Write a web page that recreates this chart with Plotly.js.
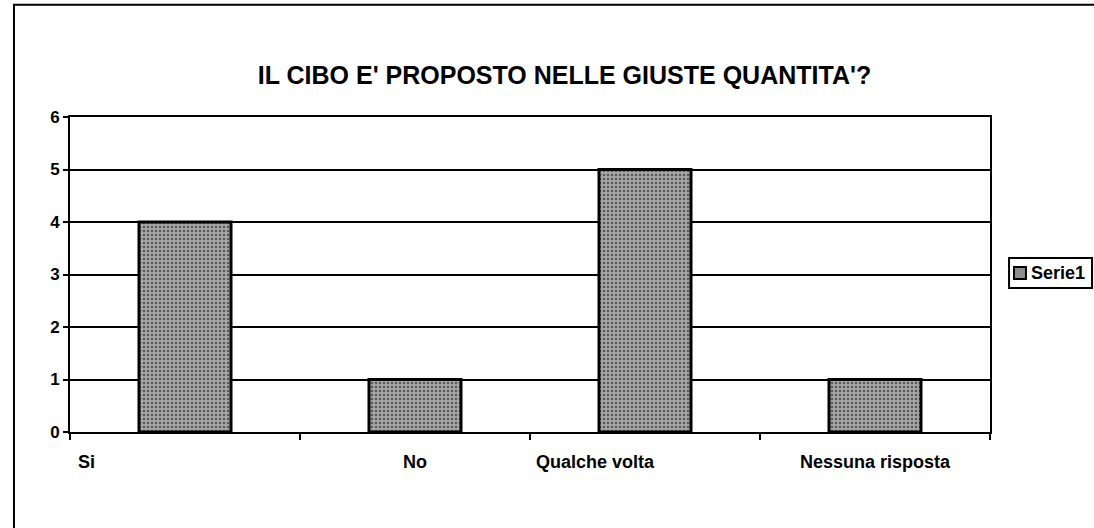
<!DOCTYPE html>
<html>
<head>
<meta charset="utf-8">
<script src="https://cdn.plot.ly/plotly-3.0.1.min.js"></script>
<style>html,body{margin:0;padding:0;background:#fff;}#chart{width:1094px;height:528px;}</style>
</head>
<body>
<div id="chart"></div>
<script>
const categories = ["Si", "No", "Qualche volta", "Nessuna risposta"];
const serie1 = [4, 1, 5, 1];
const yTicks = [0, 1, 2, 3, 4, 5, 6];
const seriesName = "Serie1";
const chartTitle = "IL CIBO E' PROPOSTO NELLE GIUSTE QUANTITA'?";

const FONT = "Liberation Sans, Arial, sans-serif";

// label placement relative to category index (as in the scanned original)
const labelShift = [-0.474, 0.0, -0.217, 0.0];
const labelAnchor = ["left", "center", "center", "center"];

const barFill = "#8e8e8e";
const barPattern = {shape: ".", fgcolor: "#5a5a5a", bgcolor: "#a8a8a8", size: 4, solidity: 0.35};

const trace = {
  type: "bar",
  x: categories,
  y: serie1,
  name: seriesName,
  width: 0.4,
  marker: {
    color: barFill,
    line: {color: "#000", width: 3},
    pattern: barPattern
  },
  showlegend: false,
  hoverinfo: "skip"
};

const annotations = categories.map((c, i) => ({
  text: c,
  x: i + labelShift[i],
  xref: "x",
  y: -0.095,
  yref: "paper",
  xanchor: labelAnchor[i],
  yanchor: "middle",
  showarrow: false,
  font: {family: FONT, size: 18, color: "#000", weight: "bold"}
}));

// legend (drawn manually so it fits in the narrow right margin like the original)
annotations.push({
  text: seriesName,
  x: 1.0424, xref: "paper",
  y: 0.505, yref: "paper",
  xanchor: "left", yanchor: "middle",
  showarrow: false,
  font: {family: FONT, size: 18, color: "#000", weight: "bold"}
});

const layout = {
  width: 1094,
  height: 528,
  margin: {l: 70, r: 104, t: 117, b: 96, autoexpand: false},
  paper_bgcolor: "#fff",
  plot_bgcolor: "#fff",
  showlegend: false,
  title: {
    text: chartTitle,
    xref: "container", x: 0.516,
    yref: "container", y: 0.858, yanchor: "middle",
    font: {family: FONT, size: 25, color: "#000", weight: "bold"}
  },
  xaxis: {
    type: "category",
    showticklabels: false,
    tickson: "boundaries",
    ticks: "outside",
    ticklen: 6,
    tickwidth: 2,
    tickcolor: "#000",
    showgrid: false,
    showline: true,
    linecolor: "#000",
    linewidth: 2,
    mirror: true,
    range: [-0.5, 3.5]
  },
  yaxis: {
    range: [0, 6],
    tickvals: yTicks,
    ticktext: yTicks.map(String),
    ticks: "outside",
    ticklen: 5,
    tickwidth: 2,
    tickcolor: "#000",
    showgrid: true,
    gridcolor: "#000",
    gridwidth: 2,
    zeroline: false,
    showline: true,
    linecolor: "#000",
    linewidth: 2,
    mirror: true,
    tickfont: {family: FONT, size: 17, color: "#000", weight: "bold"}
  },
  annotations: annotations,
  shapes: [
    {
      type: "rect",
      xref: "paper", yref: "paper",
      x0: -0.0609, x1: 1.2,
      y0: -0.35, y1: 1.356,
      line: {color: "#000", width: 2},
      fillcolor: "rgba(0,0,0,0)",
      layer: "below"
    },
    {
      type: "rect",
      xref: "paper", yref: "paper",
      x0: 1.0207, x1: 1.1109,
      y0: 0.457, y1: 0.552,
      line: {color: "#000", width: 2},
      fillcolor: "#fff",
      layer: "above"
    },
    {
      type: "rect",
      xref: "paper", yref: "paper",
      x0: 1.0261, x1: 1.0391,
      y0: 0.4857, y1: 0.5238,
      line: {color: "#000", width: 2},
      fillcolor: barFill,
      layer: "above"
    }
  ],
  bargap: 0.6
};

Plotly.newPlot("chart", [trace], layout, {staticPlot: true, displayModeBar: false});
</script>
</body>
</html>
